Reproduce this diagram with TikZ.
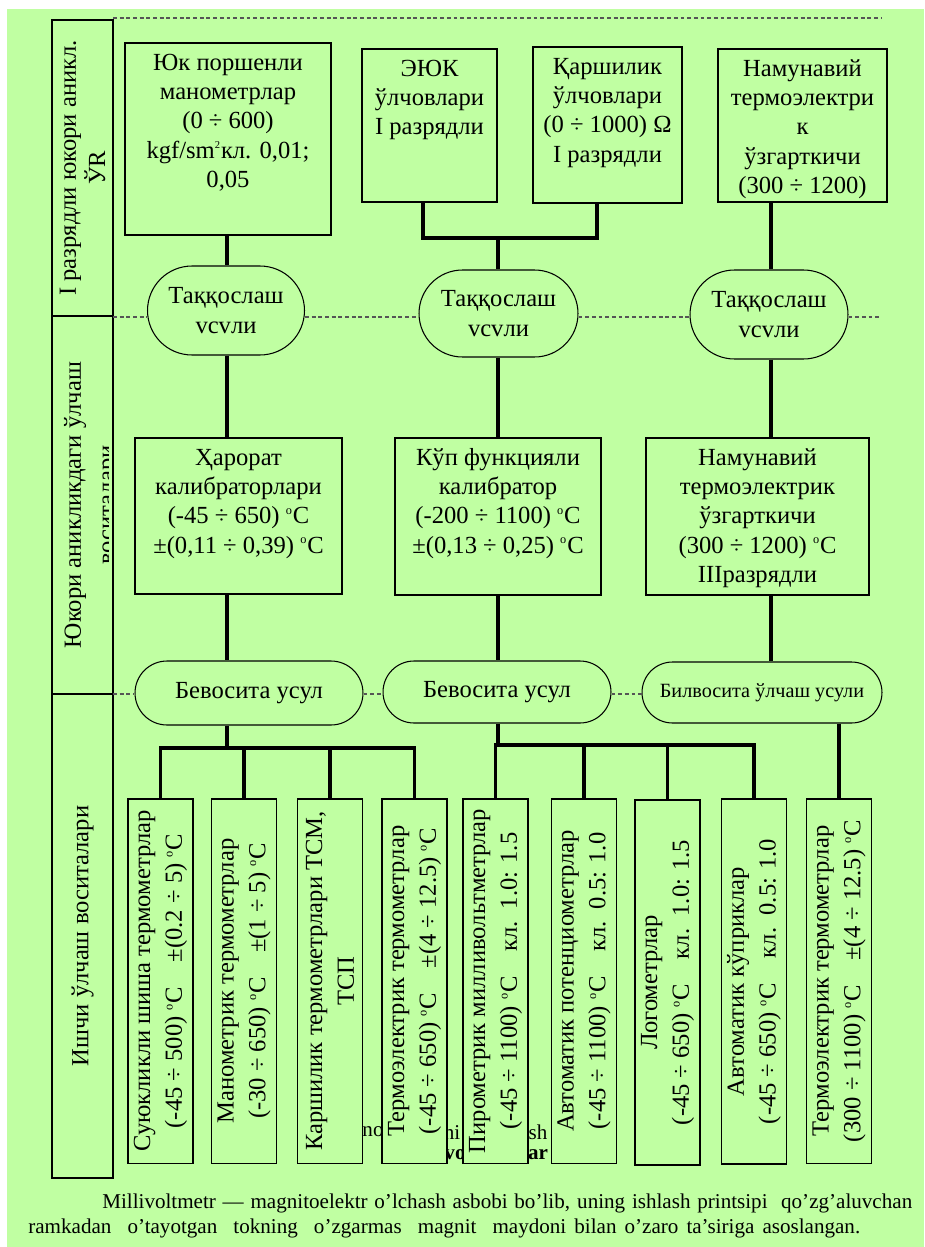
\documentclass[tikz,border=0pt]{standalone}
\usepackage{fontspec}
\setmainfont{Liberation Serif}
\usetikzlibrary{shapes.misc}

\definecolor{bgc}{RGB}{192,255,162}
\definecolor{dashc}{RGB}{85,85,85}
\newcommand{\boxtext}[3]{\parbox[c][#2][t]{#1}{\centering\rule{0pt}{0.55cm}#3}}
\newcommand{\tempC}{\textsuperscript{\fontsize{7pt}{7pt}\selectfont o}C}

\tikzset{
  box/.style={draw,line width=1.1pt,fill=bgc,inner sep=0pt},
  pill/.style={draw,rounded rectangle,line width=0.6pt,fill=bgc,inner sep=0pt,align=center},
  tall/.style={draw,line width=1.1pt,fill=bgc,rotate=90,inner sep=0pt,align=center,
    minimum width=7.3cm,minimum height=1.3cm,font=\fontsize{14pt}{18pt}\selectfont},
  side/.style={draw,line width=1.1pt,rotate=90,inner sep=0pt,align=center,minimum height=1.22cm},
  link/.style={line width=2pt},
  sep/.style={dashc,line width=0.7pt,dash pattern=on 2.2pt off 1.6pt},
  scrap/.style={font=\fontsize{12pt}{14pt}\selectfont,inner sep=0pt}
}

\begin{document}
\begin{tikzpicture}[x=0.02cm,y=-0.02cm,font=\fontsize{14pt}{16.6pt}\selectfont]
\useasboundingbox (0,0) rectangle (924,1247);
\fill[bgc] (7,9) rectangle (924,1247);

% row marks
\coordinate (r0) at (113,18);
\coordinate (r0e) at (881,18);
\coordinate (r1) at (113,317);
\coordinate (r1e) at (881,317);
\coordinate (r2) at (113,694);
\coordinate (cL) at (227,0);
\coordinate (cM) at (498,0);
\coordinate (cR) at (771,0);

% side column
\node[side,minimum width=5.92cm] (S1) at (82.5,168) {I разрядли юкори аникл.\\ЎR};
\node[side,minimum width=7.56cm] (S2) at (82.5,505) {};
\node[rotate=90] (S2t) at (75,505) {Юкори аникликдаги ўлчаш};
\begin{scope}
  \clip (52,316) rectangle (108,694);
  \node[rotate=90] (S2u) at (111,505) {воситалари};
\end{scope}
\node[side,minimum width=9.68cm] (S3) at (82.5,936) {Ишчи ўлчаш воситалари};

% top row
\node[box] (P1) at (228,139) {\boxtext{4.12cm}{3.84cm}{Юк поршенли\\манометрлар\\(0 ÷ 600)\\kgf/sm\textsuperscript{\fontsize{6pt}{6pt}\selectfont 2}кл. 0,01;\\0,05}};
\node[box] (P2) at (429.5,125.5) {\boxtext{2.7cm}{3.06cm}{ЭЮК\\ўлчовлари\\I разрядли}};
\node[box] (P3) at (607.5,125) {\boxtext{2.98cm}{3.12cm}{Қаршилик\\ўлчовлари\\(0 ÷ 1000) Ω\\I разрядли}};
\node[box] (P4) at (802.5,125.5) {\boxtext{3.38cm}{3.06cm}{Намунавий\\термоэлектри\\к\\ўзгарткичи\\(300 ÷ 1200)}};

\node[pill,minimum width=3.14cm,minimum height=1.78cm] (T1) at (226,310.5) {Таққослаш\\vсvли};
\node[pill,minimum width=3.18cm,minimum height=1.74cm] (T2) at (498.5,313.5) {Таққослаш\\vсvли};
\node[pill,minimum width=3.16cm,minimum height=1.78cm] (T3) at (769,314.5) {Таққослаш\\vсvли};

% middle row
\node[box] (K1) at (238.5,516) {\boxtext{4.14cm}{3.12cm}{Ҳарорат\\калибраторлари\\(-45 ÷ 650) \tempC\\±(0,11 ÷ 0,39) \tempC}};
\node[box] (K2) at (498,516.5) {\boxtext{4.12cm}{3.14cm}{Кўп функцияли\\калибратор\\(-200 ÷ 1100) \tempC\\±(0,13 ÷ 0,25) \tempC}};
\node[box] (K3) at (757.5,516.5) {\boxtext{4.46cm}{3.14cm}{Намунавий\\термоэлектрик\\ўзгарткичи\\(300 ÷ 1200) \tempC\\IIIразрядли}};

\node[pill,minimum width=4.56cm,minimum height=1.28cm] (U1) at (249,693) {Бевосита усул};
\node[pill,minimum width=4.56cm,minimum height=1.24cm] (U2) at (497,692) {Бевосита усул};
\node[pill,minimum width=4.8cm,minimum height=1.22cm,font=\fontsize{11.5pt}{14pt}\selectfont] (U3) at (762,692.5) {Билвосита ўлчаш усули};

% text pieces behind the bottom boxes
\node[scrap] (f1) at (373,1132) {no};
\node[scrap] (f2) at (452,1132) {hi};
\node[scrap] (f3) at (538,1132) {sh};
\node[scrap,font=\fontsize{12pt}{14pt}\selectfont\bfseries] (f4) at (455,1155) {vo};
\node[scrap,font=\fontsize{12pt}{14pt}\selectfont\bfseries] (f5) at (538,1155) {ar};

% bottom row
\node[tall] (b1) at (160.5,981) {Суюкликли шиша термометрлар\\(-45 ÷ 500) \tempC\quad ±(0.2 ÷ 5) \tempC};
\node[tall] (b2) at (244,981) {Манометрик термометрлар\\(-30 ÷ 650) \tempC\quad ±(1 ÷ 5) \tempC};
\node[tall] (b3) at (330,981) {Каршилик термометрлари ТСМ,\\ТСП};
\node[tall] (b4) at (414.5,981) {Термоэлектрик термометрлар\\(-45 ÷ 650) \tempC\quad ±(4 ÷ 12.5) \tempC};
\node[tall] (b5) at (495.5,981) {Пирометрик милливольтметрлар\\(-45 ÷ 1100) \tempC\quad кл.\ \ 1.0: 1.5};
\node[tall] (b6) at (584,981) {Автоматик потенциометрлар\\(-45 ÷ 1100) \tempC\quad кл.\ \ 0.5: 1.0};
\node[tall] (b7) at (667.5,982.5) {Логометрлар\\(-45 ÷ 650) \tempC\quad кл.\ \ 1.0: 1.5};
\node[tall] (b8) at (754,981.5) {Автоматик кўприклар\\(-45 ÷ 650) \tempC\quad кл.\ \ 0.5: 1.0};
\node[tall] (b9) at (839,981) {Термоэлектрик термометрлар\\(300 ÷ 1100) \tempC\quad ±(4 ÷ 12.5) \tempC};

% dashed rows
\draw[sep] (r0) -- (r0e);
\draw[sep] (r1) -- (T1.west |- r1) (T1.east |- r1) -- (T2.west |- r1)
  (T2.east |- r1) -- (T3.west |- r1) (T3.east |- r1) -- (r1e);
\draw[sep] (r2) -- (U1.west |- r2) (U1.east |- r2) -- (U2.west |- r2)
  (U2.east |- r2) -- (U3.west |- r2);

% left branch
\draw[link] (cL |- P1.south) -- (cL |- T1.north);
\draw[link] (cL |- T1.south) -- (cL |- K1.north);
\draw[link] (cL |- K1.south) -- (cL |- U1.north);
\coordinate (busL) at (227,748);
\draw[link] (cL |- U1.south) -- (busL);
\draw[link] (b1.east) -- (b1.east |- busL) -- (b4.east |- busL) -- (b4.east);
\draw[link] (b2.east) -- (b2.east |- busL);
\draw[link] (b3.east) -- (b3.east |- busL);

% middle branch
\coordinate (jB) at (423,238);
\coordinate (jC) at (597,238);
\draw[link] (jB |- P2.south) -- (jB) -- (jC) -- (jC |- P3.south);
\draw[link] (cM |- jB) -- (cM |- T2.north);
\draw[link] (cM |- T2.south) -- (cM |- K2.north);
\draw[link] (cM |- K2.south) -- (cM |- U2.north);
\coordinate (busM) at (498,745);
\draw[link] (cM |- U2.south) -- (busM);
\draw[link] (b5.east) -- (b5.east |- busM) -- (b8.east |- busM) -- (b8.east);
\draw[link] (b6.east) -- (b6.east |- busM);
\draw[link] (b7.east) -- (b7.east |- busM);

% right branch
\draw[link] (cR |- P4.south) -- (cR |- T3.north);
\draw[link] (cR |- T3.south) -- (cR |- K3.north);
\draw[link] (cR |- K3.south) -- (cR |- U3.north);
\draw[link] (U3.south -| b9.east) -- (b9.east);

% caption
\node[anchor=base west,inner sep=0pt,font=\fontsize{12pt}{14pt}\selectfont] (cap1) at (102,1208)
  {\makebox[16.2cm][s]{Millivoltmetr — magnitoelektr o’lchash asbobi bo’lib, uning ishlash printsipi\ \ qo’zg’aluvchan}};
\node[anchor=base west,inner sep=0pt,font=\fontsize{12pt}{14pt}\selectfont] (cap2) at (28,1233)
  {\makebox[16.64cm][s]{ramkadan\ \ o’tayotgan\ \ tokning\ \ o’zgarmas\ \ magnit\ \ maydoni bilan o’zaro ta’siriga asoslangan.}};
\end{tikzpicture}
\end{document}
